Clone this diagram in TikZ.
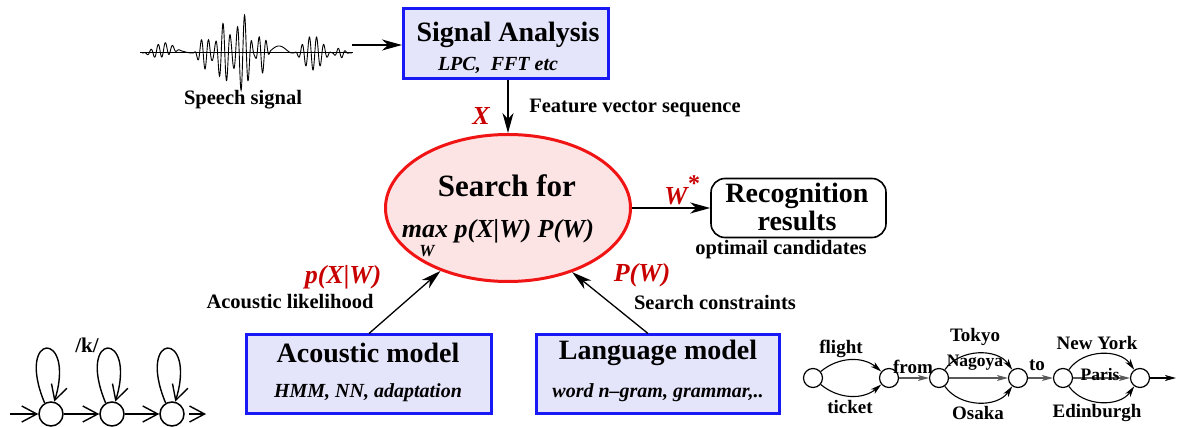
\documentclass[tikz,border=0pt]{standalone}
\usepackage{fontspec}
\setmainfont{Liberation Serif}
\usetikzlibrary{arrows.meta,shapes.geometric}
\definecolor{boxfill}{RGB}{228,228,250}
\definecolor{boxline}{RGB}{25,25,245}
\definecolor{searchfill}{RGB}{253,228,228}
\definecolor{searchline}{RGB}{240,20,20}
\definecolor{symred}{RGB}{200,0,0}
\newcommand{\fsz}[1]{\fontsize{#1}{#1}\selectfont}
\tikzset{
   modelbox/.style={draw=boxline, fill=boxfill, line width=3pt, inner sep=0pt},
   boxtitle/.style={font=\fsz{28}\bfseries, inner sep=0pt},
   boxsub/.style={font=\fsz{20}\bfseries\itshape, inner sep=0pt},
   plainlab/.style={font=\fsz{20.5}\bfseries, inner sep=0pt},
   symlab/.style={font=\fsz{26}\bfseries\itshape, text=symred, inner sep=0pt},
   netlab/.style={font=\fsz{19}\bfseries, inner sep=0pt},
   innerlab/.style={font=\fsz{17.5}\bfseries, inner sep=0pt},
   hmmstate/.style={circle, draw, line width=1.5pt, inner sep=0pt, minimum size=24pt},
   netstate/.style={circle, draw, line width=1.2pt, inner sep=0pt, minimum size=19pt},
   bigarrow/.style={-{Stealth[length=20pt,width=11pt,inset=6pt]}, line width=1.3pt},
   netarrow/.style={-{Stealth[length=11pt,width=6pt,inset=3pt]}, line width=1.1pt},
   hmmarrow/.style={-{Straight Barb[length=15pt,width=16pt]}, line width=1.4pt}
}
\begin{document}
\begin{tikzpicture}[x=1pt, y=-1pt,
   declare function={bmp(\t,\m,\s)=(max(0,1-((\t-\m)/\s)*((\t-\m)/\s)))^2;}]
   \useasboundingbox (0,0) rectangle (1183,427);

   \draw[line width=1pt] (140,53) -- (353,53);
   \draw[line width=0.9pt] plot[domain=142:352, samples=800]
      (\x, {53 - 4*bmp(\x,170,22) - 7*bmp(\x,279,13)
         - (7*bmp(\x,162,20) + 16*bmp(\x,205,12) + 30*bmp(\x,224,13)
         + 39*bmp(\x,243,13) + 20*bmp(\x,262,9) + 17*bmp(\x,313,20)
         + 5*bmp(\x,340,9))*sin(50*(\x-142))});
   \coordinate (wavend) at (352,45);
   \node[plainlab] (speech) at (243,100) {Speech signal};

   \node[modelbox, minimum width=205pt, minimum height=70pt] (sig) at (506,44) {};
   \node[boxtitle] (sigtitle) at (508,35) {Signal Analysis};
   \node[boxsub] (sigsub) at (498,65) {LPC,\ \ FFT etc};
   \draw[bigarrow] (wavend) -- (sig.west |- wavend);

   \node[ellipse, draw=searchline, fill=searchfill, line width=3pt,
      minimum width=245pt, minimum height=147pt] (search) at (508,208) {};
   \node[font=\fsz{31}\bfseries, inner sep=0pt] (searchfor) at (507,186) {Search for};
   \node[font=\fsz{26}\bfseries\itshape, inner sep=0pt] (maxline) at (498,231) {max p(X|W) P(W)};
   \node[font=\fsz{17}\bfseries\itshape, inner sep=0pt] (maxsub) at (427,251) {W};

   \draw[bigarrow] (sig.south -| search.north) -- (search.north);
   \node[symlab] (xsym) at (481,116) {X};
   \node[plainlab] (feat) at (635,108) {Feature vector sequence};

   \node[draw, rounded corners=14pt, line width=1.6pt, minimum width=175pt,
      minimum height=59pt, inner sep=0pt] (rec) at (798.5,208) {};
   \node[boxtitle] (rectitle) at (797,196) {Recognition};
   \node[boxtitle] (recres) at (797,221) {results};
   \node[plainlab] (cand) at (781,250) {optimail candidates};
   \draw[bigarrow] (search.east |- rec.west) -- (rec.west);
   \node[symlab] (wstar) at (676,196) {W};
   \node[font=\fsz{24}\bfseries, text=symred, inner sep=0pt] (star) at (694,184) {*};

   \node[modelbox, minimum width=245pt, minimum height=78pt] (am) at (369,374) {};
   \node[boxtitle] (amtitle) at (368,353) {Acoustic model};
   \node[boxsub] (amsub) at (368,393) {HMM, NN, adaptation};
   \node[modelbox, minimum width=243pt, minimum height=78pt] (lm) at (658,374) {};
   \node[boxtitle] (lmtitle) at (658,353) {Language model};
   \node[boxsub] (lmsub) at (658,393) {word n--gram, grammar,..};

   \draw[bigarrow] (am.north) -- (search.223);
   \draw[bigarrow] ([xshift=-10pt]lm.north) -- (search.315);
   \node[symlab] (pxw) at (343,277) {p(X|W)};
   \node[plainlab] (aclik) at (290,302) {Acoustic likelihood};
   \node[symlab] (pw) at (642,275) {P(W)};
   \node[plainlab] (scons) at (715,302) {Search constraints};

   \node[hmmstate] (s1) at (51,414) {};
   \node[hmmstate] (s2) at (112,414) {};
   \node[hmmstate] (s3) at (172,414) {};
   \coordinate (hin) at (10,414);
   \coordinate (hout) at (206,414);
   \draw[hmmarrow] (hin) -- (s1);
   \draw[hmmarrow] (s1) -- (s2);
   \draw[hmmarrow] (s2) -- (s3);
   \draw[hmmarrow] ([xshift=4pt]s3.east) -- (hout);
   \foreach \s in {s1,s2,s3}
      \draw[hmmarrow] (\s.120) .. controls +(-30,-72) and +(22,-72) .. (\s.75);
   \node[font=\fsz{21}\bfseries, inner sep=0pt] (phone) at (87,345) {/k/};

   \node[netstate] (n1) at (813,378) {};
   \node[netstate] (n2) at (889,378) {};
   \node[netstate] (n3) at (939,378) {};
   \node[netstate] (n4) at (1018,378) {};
   \node[netstate] (n5) at (1063,378) {};
   \node[netstate] (n6) at (1140,378) {};
   \coordinate (nout) at (1176,378);
   \draw[netarrow] (n1) to[bend left=40] (n2);
   \draw[netarrow] (n1) to[bend right=40] (n2);
   \draw[netarrow, black!65] (n2) -- (n3);
   \draw[netarrow] (n3) to[bend left=55] (n4);
   \draw[netarrow, black!65] (n3) -- (n4);
   \draw[netarrow] (n3) to[bend right=55] (n4);
   \draw[netarrow, black!65] (n4) -- (n5);
   \draw[netarrow] (n5) to[bend left=55] (n6);
   \draw[netarrow, black!65] (n5) -- (n6);
   \draw[netarrow] (n5) to[bend right=55] (n6);
   \draw[netarrow] (n6) -- (nout);
   \node[netlab] (flight) at (841,349) {flight};
   \node[netlab] (ticket) at (850,407) {ticket};
   \node[netlab] (from) at (913,367) {from};
   \node[netlab] (tokyo) at (975,337) {Tokyo};
   \node[innerlab] (nagoya) at (975,363) {Nagoya};
   \node[netlab] (osaka) at (978,413) {Osaka};
   \node[netlab] (to) at (1037,365) {to};
   \node[netlab] (newyork) at (1097,343) {New York};
   \node[innerlab] (paris) at (1100,375) {Paris};
   \node[netlab] (edinburgh) at (1097,413) {Edinburgh};
\end{tikzpicture}
\end{document}
